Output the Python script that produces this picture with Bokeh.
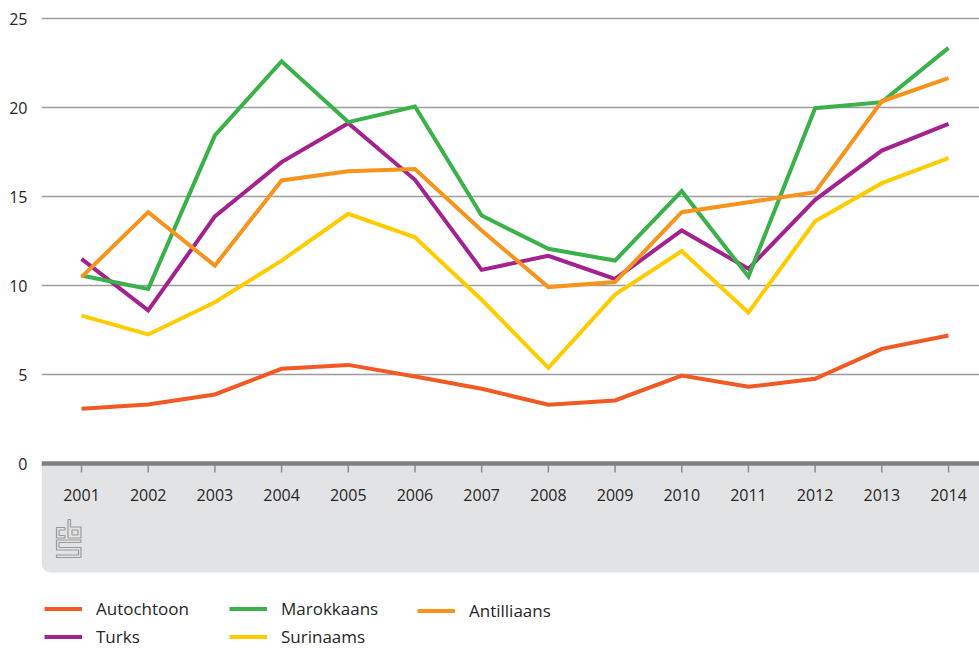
from bokeh.plotting import figure
from bokeh.models import (ColumnDataSource, Range1d, FixedTicker, Span, BoxAnnotation,
                          Legend, LegendItem)
from bokeh.core.properties import value
from bokeh.embed import file_html
from bokeh.resources import INLINE

years = [2001, 2002, 2003, 2004, 2005, 2006, 2007, 2008, 2009, 2010, 2011, 2012, 2013, 2014]
year_labels = [str(y) for y in years]
autochtoon = [3.07, 3.31, 3.88, 5.32, 5.54, 4.89, 4.2, 3.3, 3.54, 4.94, 4.31, 4.76, 6.44, 7.19]
marokkaans = [10.56, 9.81, 18.43, 22.6, 19.18, 20.06, 13.93, 12.06, 11.4, 15.3, 10.5, 19.96, 20.3, 23.35]
turks = [11.5, 8.6, 13.88, 16.93, 19.12, 15.94, 10.88, 11.67, 10.37, 13.09, 10.94, 14.81, 17.58, 19.08]
antilliaans = [10.47, 14.12, 11.12, 15.9, 16.42, 16.55, 13.09, 9.91, 10.19, 14.12, 14.68, 15.24, 20.35, 21.65]
surinaams = [8.31, 7.25, 9.06, 11.4, 14.03, 12.71, 9.2, 5.37, 9.49, 11.93, 8.48, 13.61, 15.75, 17.15]
y_ticks = [0, 5, 10, 15, 20, 25]

FONT = "Open Sans"
TXT = "#262626"

src = ColumnDataSource(dict(year=years, label=year_labels, autochtoon=autochtoon,
                            marokkaans=marokkaans, turks=turks, antilliaans=antilliaans,
                            surinaams=surinaams))

# pixel geometry (frame 938 x 649 px)
PX_X = 66.692
PX_Y = 17.8
p = figure(width=979, height=649, output_backend="svg", toolbar_location=None,
           x_axis_location=None, y_axis_location="left",
           x_range=Range1d(2001 - 40 / PX_X, 2014 + 31 / PX_X),
           y_range=Range1d(-186 / PX_Y, 463 / PX_Y),
           min_border_left=41, min_border_right=0, min_border_top=0, min_border_bottom=0)
p.outline_line_color = None
p.background_fill_color = "white"

# grey band under the axis
band = BoxAnnotation(top=0, bottom=-109 / PX_Y, fill_color="#e2e3e5", fill_alpha=1,
                     line_color=None, border_radius=dict(top_left=0, top_right=0,
                                                         bottom_right=0, bottom_left=9),
                     level="underlay")
p.add_layout(band)

p.xgrid.visible = False
p.ygrid.ticker = FixedTicker(ticks=y_ticks[1:])
p.ygrid.grid_line_color = "#9c9c9c"
p.ygrid.grid_line_width = 1.4

ya = p.yaxis[0]
ya.ticker = FixedTicker(ticks=y_ticks)
ya.axis_line_color = None
ya.major_tick_line_color = None
ya.minor_tick_line_color = None
ya.major_tick_out = 0
ya.major_label_standoff = 14
ya.major_label_text_font = FONT
ya.major_label_text_font_size = "16px"
ya.major_label_text_color = TXT

# x ticks and labels
p.segment(x0="year", y0=0, x1="year", y1=-9 / PX_Y, source=src,
          line_color="#8e8e8e", line_width=1.5)
p.text(x="year", y=0, text="label", source=src, y_offset=31, text_align="center",
       text_baseline="middle", text_font=value(FONT), text_font_size="16px",
       text_color=TXT)

zero = Span(location=0, dimension="width", line_color="#808080", line_width=4.5)
p.add_layout(zero)

# cbs logo (decoration), drawn in pixel offsets converted to data space
def px(x):
    return 2001 + (x - 81) / PX_X

def py(y):
    return (463 - y) / PX_Y

logo_shapes = [
    [(64.5, 527), (56, 527), (56, 537.5), (64.5, 537.5), (64.5, 535), (58.5, 535), (58.5, 529.5), (64.5, 529.5), (64.5, 527)],
    [(67.5, 519), (70, 519), (70, 526.5), (80.5, 526.5), (80.5, 537.5), (67.5, 537.5), (67.5, 519)],
    [(71.5, 529.5), (77.5, 529.5), (77.5, 534.5), (71.5, 534.5), (71.5, 529.5)],
    [(80.5, 539.5), (56, 539.5), (56, 549.5), (78, 549.5), (78, 554.5), (56, 554.5), (56, 557),
     (80.5, 557), (80.5, 547), (58.5, 547), (58.5, 542), (80.5, 542), (80.5, 539.5)],
]
p.multi_line(xs=[[px(a) for a, b in s] for s in logo_shapes],
             ys=[[py(b) for a, b in s] for s in logo_shapes],
             line_color="#9a9a9a", line_width=1.2)

colors = dict(autochtoon="#f15a24", turks="#a4228f", surinaams="#ffcc00",
              marokkaans="#3bb14a", antilliaans="#f7941d")
names = dict(autochtoon="Autochtoon", turks="Turks", surinaams="Surinaams",
             marokkaans="Marokkaans", antilliaans="Antilliaans")
renderers = {}
for key in ["autochtoon", "turks", "surinaams", "marokkaans", "antilliaans"]:
    renderers[key] = p.line("year", key, source=src, line_color=colors[key], line_width=4,
                            line_join="miter")

def make_legend(keys, x, y):
    lg = Legend(items=[LegendItem(label=names[k], renderers=[renderers[k]]) for k in keys],
                location=(x, y), orientation="vertical",
                glyph_width=38, glyph_height=21, label_height=18, spacing=5,
                label_standoff=14, padding=0, margin=0, border_line_color=None,
                background_fill_alpha=0, label_text_font=FONT,
                label_text_font_size="17px", label_text_color=TXT)
    p.add_layout(lg, "center")
    return lg

make_legend(["autochtoon", "turks"], 3, 1)
make_legend(["marokkaans", "surinaams"], 188, 1)
make_legend(["antilliaans"], 376, 27)

open("out.html", "w").write(file_html(p, INLINE))
